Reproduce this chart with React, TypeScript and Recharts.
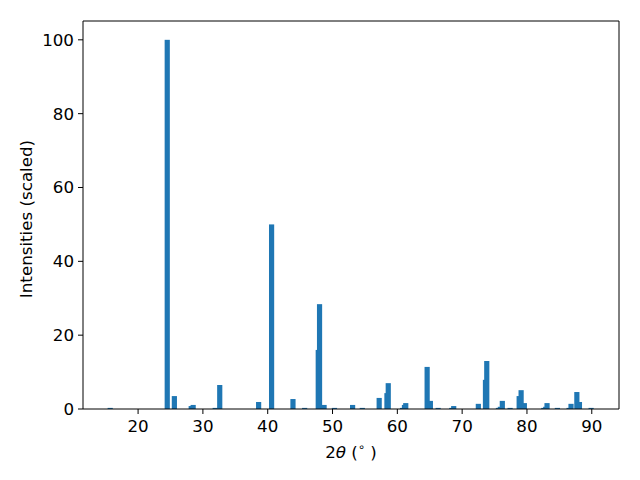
import { Bar, BarChart, Label, ReferenceLine, XAxis, YAxis } from "recharts";

// peak positions (2θ, degrees) and scaled intensities
const positions = [
  15.7, 24.5, 25.6, 28.2, 28.5, 31.9, 32.6, 38.6, 40.6, 43.9, 45.7, 47.8, 48.0, 48.7, 50.3,
  53.1, 54.6, 57.2, 58.4, 58.6, 60.8, 61.1, 61.3, 64.6, 65.1, 66.3, 68.4, 68.7, 72.5, 73.6,
  73.8, 75.6, 75.9, 76.2, 77.4, 78.8, 79.1, 79.6, 82.6, 82.9, 83.1, 84.7, 86.5, 86.8, 87.7,
  88.1, 89.9,
];
const intensities = [
  0.3, 100, 3.5, 0.8, 1.1, 0.3, 6.5, 1.9, 50, 2.7, 0.3, 16, 28.4, 1.1, 0.3,
  1.1, 0.3, 3.0, 4.3, 7.0, 0.3, 1.1, 1.6, 11.4, 2.2, 0.3, 0.3, 0.8, 1.4, 7.9,
  13.0, 0.3, 0.6, 2.2, 0.3, 3.5, 5.1, 1.6, 0.3, 0.6, 1.6, 0.3, 0.3, 1.4, 4.6,
  1.9, 0.3,
];
const xTicks = [20, 30, 40, 50, 60, 70, 80, 90];
const yTicks = [0, 20, 40, 60, 80, 100];

const X_MIN = 11.5;
const X_MAX = 94.2;
const Y_MAX = 105.1;
const BAR_WIDTH = 0.8; // in degrees, like matplotlib's default

const data = positions.map((p, i) => ({ theta: p, intensity: intensities[i] }));

const W = 640;
const H = 480;
const MARGIN = { top: 21, right: 21, bottom: 21, left: 0 };
const Y_AXIS_W = 83;
const PLOT_W = W - MARGIN.left - MARGIN.right - Y_AXIS_W;
const PX_PER_DEG = PLOT_W / (X_MAX - X_MIN);

const FONT = "DejaVu Sans, sans-serif";
const FS = 16.7;
const tickStyle = { fill: "#000", fontSize: FS, fontFamily: FONT };

// recharts squeezes bars on a number axis to the smallest data gap; redraw at true width
function PeakBar(props: any) {
  const { x, width, y, height, fill } = props;
  if (!height || height <= 0) return null;
  const w = BAR_WIDTH * PX_PER_DEG;
  const cx = x + width / 2;
  return <rect x={cx - w / 2} y={y} width={w} height={height} fill={fill} />;
}

export default function App() {
  return (
    <div style={{ position: "absolute", left: 0, top: 0, width: W, height: H, background: "#fff" }}>
      <BarChart width={W} height={H} data={data} margin={MARGIN}>
        <XAxis
          dataKey="theta"
          type="number"
          domain={[X_MIN, X_MAX]}
          ticks={xTicks}
          allowDataOverflow
          height={50}
          stroke="#000"
          tickSize={5}
          tickMargin={6}
          tick={tickStyle}
          tickLine={{ stroke: "#000" }}
          axisLine={{ stroke: "#000" }}
        >
          <Label
            content={({ viewBox }: any) => (
              <text
                x={viewBox.x + viewBox.width / 2}
                y={457.5}
                textAnchor="middle"
                fontFamily={FONT}
                fontSize={FS}
                fill="#000"
              >
                <tspan>2</tspan>
                <tspan fontStyle="italic">θ</tspan>
                <tspan> (</tspan>
                <tspan fontSize={11.5} dy={-7}>∘</tspan>
                <tspan dy={7}> )</tspan>
              </text>
            )}
          />
        </XAxis>
        <YAxis
          type="number"
          domain={[0, Y_MAX]}
          ticks={yTicks}
          width={Y_AXIS_W}
          stroke="#000"
          tickSize={5}
          tickMargin={4}
          tick={tickStyle}
          tickLine={{ stroke: "#000" }}
          axisLine={{ stroke: "#000" }}
        >
          <Label
            content={() => (
              <text
                x={31.5}
                y={219}
                transform="rotate(-90 31.5 219)"
                textAnchor="middle"
                fontFamily={FONT}
                fontSize={FS}
                fill="#000"
              >
                Intensities (scaled)
              </text>
            )}
          />
        </YAxis>
        <ReferenceLine y={Y_MAX} stroke="#000" ifOverflow="extendDomain" />
        <ReferenceLine x={X_MAX} stroke="#000" ifOverflow="extendDomain" />
        <Bar dataKey="intensity" fill="#1f77b4" shape={PeakBar} isAnimationActive={false} />
      </BarChart>
    </div>
  );
}
